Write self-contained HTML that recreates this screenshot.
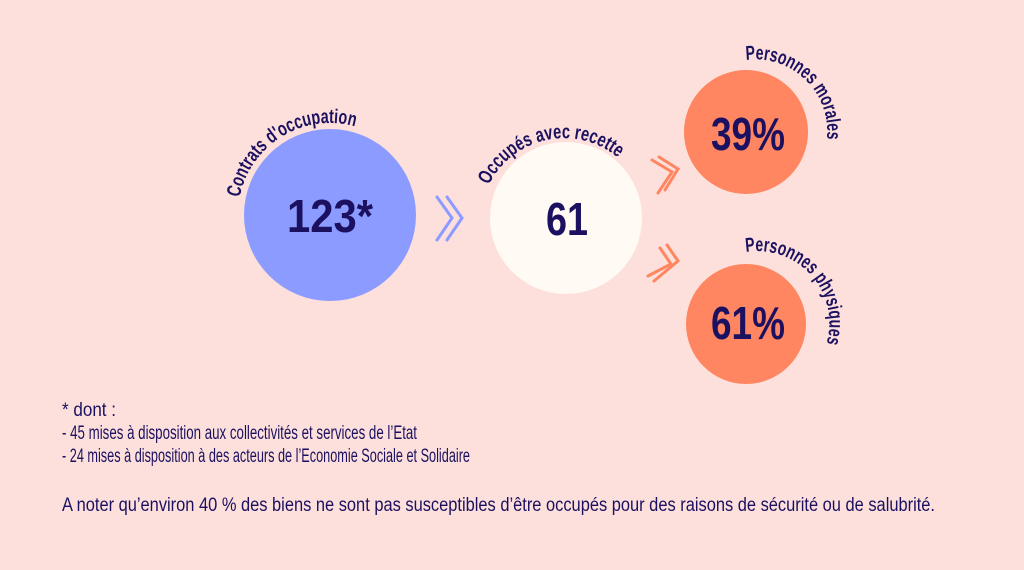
<!DOCTYPE html>
<html><head><meta charset="utf-8"><style>
html,body{margin:0;padding:0;background:#fde0dc;}
svg{display:block;}
text{font-family:"Liberation Sans Narrow","Liberation Sans",sans-serif;fill:#1b1160;}
</style></head><body>
<svg width="1024" height="570" viewBox="0 0 1024 570" xmlns="http://www.w3.org/2000/svg">
<rect width="1024" height="570" fill="#fde0dc"/>
<defs>
<path id="a1" d="M 239.7 197.4 A 92 92 0 0 1 360 128"/>
<path id="a2" d="M 488.7 185.2 A 84 84 0 0 1 630 170"/>
<path id="a3" d="M 746 60 A 72 72 0 0 1 816 170"/>
<path id="a4" d="M 746 252 A 72 72 0 0 1 812 370"/>
</defs>
<circle cx="330" cy="215" r="86" fill="#8c9bff"/>
<circle cx="566" cy="218" r="76" fill="#fffaf3"/>
<circle cx="746" cy="132" r="62" fill="#ff8660"/>
<circle cx="746" cy="324" r="60" fill="#ff8660"/>

<text font-size="20" font-weight="bold"><textPath href="#a1" textLength="152" lengthAdjust="spacingAndGlyphs">Contrats d'occupation</textPath></text>
<text font-size="20" font-weight="bold"><textPath href="#a2" textLength="152" lengthAdjust="spacingAndGlyphs">Occupés avec recette</textPath></text>
<text font-size="20" font-weight="bold"><textPath href="#a3" textLength="130" lengthAdjust="spacingAndGlyphs">Personnes morales</textPath></text>
<text font-size="20" font-weight="bold"><textPath href="#a4" textLength="145" lengthAdjust="spacingAndGlyphs">Personnes physiques</textPath></text>

<text x="330" y="232" font-size="46" font-weight="bold" text-anchor="middle" textLength="86" lengthAdjust="spacingAndGlyphs">123*</text>
<text x="567" y="235" font-size="46" font-weight="bold" text-anchor="middle" textLength="42" lengthAdjust="spacingAndGlyphs">61</text>
<text x="748" y="150" font-size="46" font-weight="bold" text-anchor="middle" textLength="74" lengthAdjust="spacingAndGlyphs">39%</text>
<text x="748" y="339" font-size="46" font-weight="bold" text-anchor="middle" textLength="74" lengthAdjust="spacingAndGlyphs">61%</text>

<g fill="none" stroke="#8c9bff" stroke-width="3" stroke-linecap="round">
<polyline points="437,197 452,218 437,240"/>
<polyline points="447,197 462,218 447,240"/>
</g>
<g fill="none" stroke="#ff8660" stroke-width="3" stroke-linecap="round">
<polyline points="652,160 672,172 658,193"/>
<polyline points="659,157 678,169 665,190"/>
<polyline points="660,248 671,264 648,276"/>
<polyline points="667,245 678,261 654,281"/>
</g>

<g font-size="19">
<text x="62" y="416" textLength="54" lengthAdjust="spacingAndGlyphs">* dont :</text>
<text x="62" y="439" textLength="355" lengthAdjust="spacingAndGlyphs">- 45  mises à disposition aux collectivités et services de l’Etat</text>
<text x="62" y="462" textLength="408" lengthAdjust="spacingAndGlyphs">- 24 mises à disposition à des acteurs de l’Economie Sociale et Solidaire</text>
<text x="62" y="511" textLength="873" lengthAdjust="spacingAndGlyphs">A noter qu’environ 40 % des biens ne sont pas susceptibles d’être occupés pour des raisons de sécurité ou de salubrité.</text>
</g>
</svg>
</body></html>
